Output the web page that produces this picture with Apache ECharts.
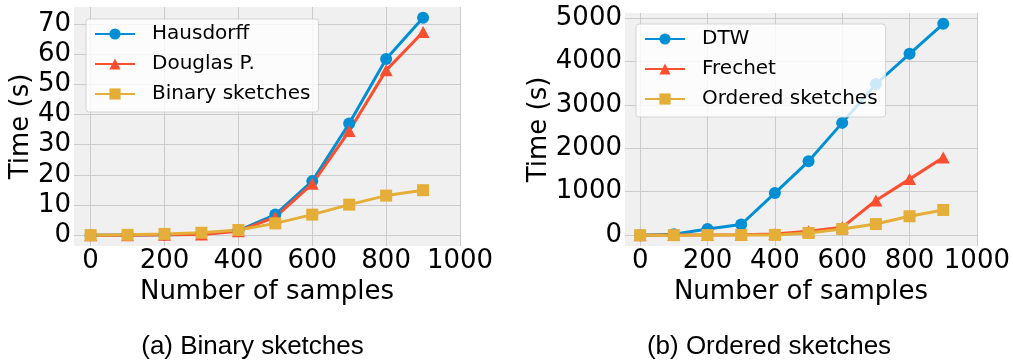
<!DOCTYPE html>
<html>
<head>
<meta charset="utf-8">
<title>Runtime vs number of samples</title>
<script src="https://cdn.jsdelivr.net/npm/echarts@6/dist/echarts.min.js"></script>
<style>
  html, body { margin: 0; padding: 0; background: #ffffff; }
  #chart { width: 1013px; height: 362px; }
</style>
</head>
<body>
<div id="chart"></div>
<script>
// Number of samples (x) shared by both panels
const sampleCounts = [0, 100, 200, 300, 400, 500, 600, 700, 800, 900];

// Panel (a): runtime in seconds
const hausdorff      = [0, 0.05, 0.1, 0.3, 1.5, 6.8, 17.9, 37.0, 58.4, 72.0];
const douglasP       = [0, 0.0, 0.1, 0.2, 1.3, 6.0, 17.0, 34.5, 54.6, 67.3];
const binarySketches = [0, 0.1, 0.4, 0.8, 1.7, 3.9, 6.8, 10.1, 13.1, 14.9];

// Panel (b): runtime in seconds
const dtw             = [0, 20, 140, 245, 968, 1700, 2585, 3480, 4175, 4866];
const frechet         = [0, 2, 5, 8, 25, 90, 180, 797, 1290, 1790];
const orderedSketches = [0, 0, 2, 3, 5, 50, 142, 255, 435, 580];

// Tick labels
const xTicks        = [0, 200, 400, 600, 800, 1000];
const yTicksBinary  = [0, 10, 20, 30, 40, 50, 60, 70];
const yTicksOrdered = [0, 1000, 2000, 3000, 4000, 5000];

const seriesNamesA = ['Hausdorff', 'Douglas P.', 'Binary sketches'];
const seriesNamesB = ['DTW', 'Frechet', 'Ordered sketches'];

const BLUE = '#008fd5', RED = '#fc4f30', YELLOW = '#e5ae38';
const FONT = 'DejaVu Sans';

const pairs = ys => sampleCounts.map((x, i) => [x, ys[i]]);
const plain = v => String(v);

function xAxisFor(gridIndex) {
  return {
    type: 'value', gridIndex, min: -45, max: 1000,
    name: 'Number of samples', nameLocation: 'middle', nameGap: 28,
    nameTextStyle: { fontFamily: FONT, fontSize: 26, color: '#000' },
    axisLine: { show: false },
    axisTick: { show: false, customValues: xTicks },
    axisLabel: { customValues: xTicks, formatter: plain, fontFamily: FONT, fontSize: 26, color: '#000', margin: 2 },
    splitLine: { show: true, lineStyle: { color: '#cbcbcb', width: 1 } }
  };
}

function yAxisFor(gridIndex, min, max, ticks, nameGap) {
  return {
    type: 'value', gridIndex, min, max,
    name: 'Time (s)', nameLocation: 'middle', nameGap,
    nameTextStyle: { fontFamily: FONT, fontSize: 26, color: '#000' },
    axisLine: { show: false },
    axisTick: { show: false, customValues: ticks },
    axisLabel: { customValues: ticks, formatter: plain, fontFamily: FONT, fontSize: 26, color: '#000', margin: 3 },
    splitLine: { show: true, lineStyle: { color: '#cbcbcb', width: 1 } }
  };
}

function lineSeries(name, ys, color, symbol, symbolSize, axisIndex) {
  return {
    type: 'line', name, data: pairs(ys),
    xAxisIndex: axisIndex, yAxisIndex: axisIndex,
    symbol, symbolSize, showAllSymbol: true,
    lineStyle: { color, width: 3 },
    itemStyle: { color, borderWidth: 0 },
    emphasis: { disabled: true },
    z: 3
  };
}

function legendFor(names, left, top) {
  return {
    data: names, orient: 'vertical', left, top,
    itemWidth: 40, itemHeight: 14, itemGap: 10,
    padding: [5, 8, 8, 8],
    backgroundColor: 'rgba(255,255,255,0.8)',
    borderColor: 'rgba(204,204,204,0.8)', borderWidth: 1, borderRadius: 3,
    selectedMode: false,
    textStyle: { fontFamily: FONT, fontSize: 20, color: '#000', lineHeight: 20, padding: [0, 0, 0, 12] }
  };
}

const chart = echarts.init(document.getElementById('chart'), null, { renderer: 'canvas' });

chart.setOption({
  animation: false,
  backgroundColor: '#ffffff',
  grid: [
    { left: 74, top: 7, width: 386, height: 239, show: true, backgroundColor: '#f0f0f0', borderWidth: 0 },
    { left: 625, top: 13, width: 352.5, height: 233, show: true, backgroundColor: '#f0f0f0', borderWidth: 0 }
  ],
  xAxis: [xAxisFor(0), xAxisFor(1)],
  yAxis: [
    yAxisFor(0, -3.6, 75.6, yTicksBinary, 37),
    yAxisFor(1, -250, 5115, yTicksOrdered, 65)
  ],
  legend: [legendFor(seriesNamesA, 86, 19), legendFor(seriesNamesB, 636, 24)],
  series: [
    lineSeries(seriesNamesA[0], hausdorff, BLUE, 'circle', 12, 0),
    lineSeries(seriesNamesA[1], douglasP, RED, 'triangle', [13, 12], 0),
    lineSeries(seriesNamesA[2], binarySketches, YELLOW, 'rect', 12, 0),
    lineSeries(seriesNamesB[0], dtw, BLUE, 'circle', 12, 1),
    lineSeries(seriesNamesB[1], frechet, RED, 'triangle', [13, 12], 1),
    lineSeries(seriesNamesB[2], orderedSketches, YELLOW, 'rect', 12, 1)
  ],
  graphic: [
    { type: 'text', x: 252.5, y: 347, style: { text: '(a) Binary sketches', fontFamily: 'Liberation Sans', fontSize: 26, fill: '#000', align: 'center', verticalAlign: 'middle' } },
    { type: 'text', x: 769, y: 347, style: { text: '(b) Ordered sketches', fontFamily: 'Liberation Sans', fontSize: 26, fill: '#000', align: 'center', verticalAlign: 'middle' } }
  ]
});
</script>
</body>
</html>
